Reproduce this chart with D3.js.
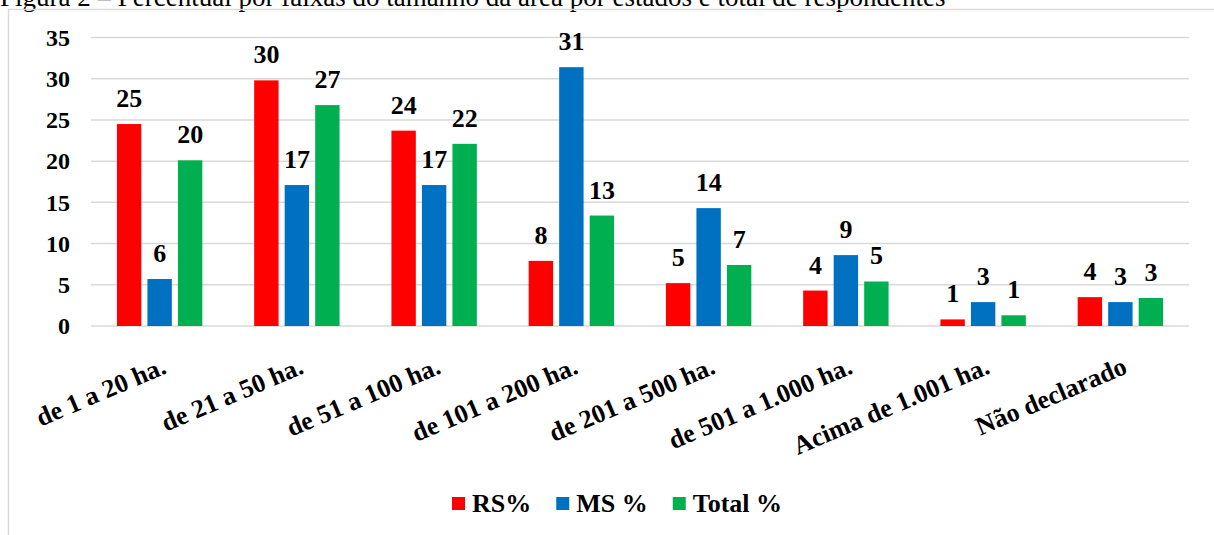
<!DOCTYPE html>
<html>
<head>
<meta charset="utf-8">
<script src="https://cdn.jsdelivr.net/npm/d3@7"></script>
<style>
  body { margin: 0; background: #fff; }
  text { font-family: "Liberation Serif", "Tinos", "Times New Roman", "DejaVu Serif", serif; }
</style>
</head>
<body>
<div id="chart"></div>
<script>
// Dados
var categorias = ["de 1 a 20 ha.", "de 21 a 50 ha.", "de 51 a 100 ha.", "de 101 a 200 ha.",
                  "de 201 a 500 ha.", "de 501 a 1.000 ha.", "Acima de 1.001 ha.", "Não declarado"];
var series = ["RS%", "MS %", "Total %"];
var rs    = [24.5, 29.8, 23.7, 7.9, 5.2, 4.3, 0.8, 3.5];
var ms    = [5.7, 17.1, 17.1, 31.4, 14.3, 8.6, 2.9, 2.9];
var total = [20.1, 26.8, 22.1, 13.4, 7.4, 5.4, 1.3, 3.4];
var yTicks = [0, 5, 10, 15, 20, 25, 30, 35];
var cores = ["#FF0000", "#0070C0", "#00B050"];

var valores = [rs, ms, total];
var data = categorias.map(function(c, i) {
  return { cat: c, vals: series.map(function(s, j) { return { serie: s, v: valores[j][i], cor: cores[j] }; }) };
});

var W = 1214, H = 535;
var plot = { left: 91, right: 1189, top: 37.5, bottom: 326 };

var svg = d3.select("#chart").append("svg")
    .attr("width", W)
    .attr("height", H);

// título (cortado no topo, como na imagem)
svg.append("text")
    .attr("x", 0)
    .attr("y", 6)
    .style("font-size", "27px")
    .text("Figura 2 – Percentual por faixas do tamanho da área por estados e total de respondentes");

// moldura da área do gráfico
svg.append("path")
    .attr("d", "M8.5," + H + "V9.5H" + W)
    .attr("fill", "none")
    .attr("stroke", "#d9d9d9")
    .attr("stroke-width", 1.5);

var x0 = d3.scaleBand()
    .domain(categorias)
    .range([plot.left, plot.right])
    .padding(0);

var x1 = d3.scaleBand()
    .domain(series)
    .range([0, x0.bandwidth()])
    .paddingInner(0.2)
    .paddingOuter(0.85);

var y = d3.scaleLinear()
    .domain([0, 35])
    .range([plot.bottom, plot.top]);

// linhas de grade
svg.append("g")
  .selectAll("line")
  .data(yTicks)
  .enter().append("line")
    .attr("x1", plot.left)
    .attr("x2", plot.right)
    .attr("y1", function(d) { return y(d); })
    .attr("y2", function(d) { return y(d); })
    .attr("stroke", "#d9d9d9")
    .attr("stroke-width", 1.5);

// eixo Y
var yAxis = svg.append("g")
    .attr("transform", "translate(" + plot.left + ",0)")
    .call(d3.axisLeft(y).tickValues(yTicks).tickSize(0).tickPadding(21));
yAxis.attr("font-family", null).attr("font-size", null);
yAxis.select(".domain").remove();
yAxis.selectAll("text")
    .style("font-size", "24px")
    .style("font-weight", "bold")
    .attr("fill", "#000");

// barras
var grupos = svg.append("g")
  .selectAll("g")
  .data(data)
  .enter().append("g")
    .attr("transform", function(d) { return "translate(" + x0(d.cat) + ",0)"; });

grupos.selectAll("rect")
  .data(function(d) { return d.vals; })
  .enter().append("rect")
    .attr("x", function(d) { return x1(d.serie); })
    .attr("y", function(d) { return y(d.v); })
    .attr("width", x1.bandwidth())
    .attr("height", function(d) { return y(0) - y(d.v); })
    .attr("fill", function(d) { return d.cor; });

// rótulos de dados
grupos.selectAll("text")
  .data(function(d) { return d.vals; })
  .enter().append("text")
    .attr("x", function(d) { return x1(d.serie) + x1.bandwidth() / 2; })
    .attr("y", function(d) { return y(d.v) - 17; })
    .attr("text-anchor", "middle")
    .style("font-size", "26px")
    .style("font-weight", "bold")
    .text(function(d) { return Math.round(d.v); });

// rótulos do eixo X (inclinados)
svg.append("g")
  .selectAll("text")
  .data(categorias)
  .enter().append("text")
    .attr("transform", function(d) {
      return "translate(" + (x0(d) + x0.bandwidth() / 2 + 1) + ",356) rotate(-23)";
    })
    .attr("text-anchor", "end")
    .attr("dy", "0.7em")
    .style("font-size", "26px")
    .style("font-weight", "bold")
    .text(function(d) { return d; });

// legenda
var legenda = svg.append("g");
var lx = 452;
series.forEach(function(s, i) {
  legenda.append("rect")
      .attr("x", lx)
      .attr("y", 497)
      .attr("width", 13)
      .attr("height", 13)
      .attr("fill", cores[i]);
  var t = legenda.append("text")
      .attr("x", lx + 20)
      .attr("y", 512)
      .style("font-size", "26px")
      .style("font-weight", "bold")
      .text(s);
  lx = lx + 20 + t.node().getComputedTextLength() + 25;
});
</script>
</body>
</html>
